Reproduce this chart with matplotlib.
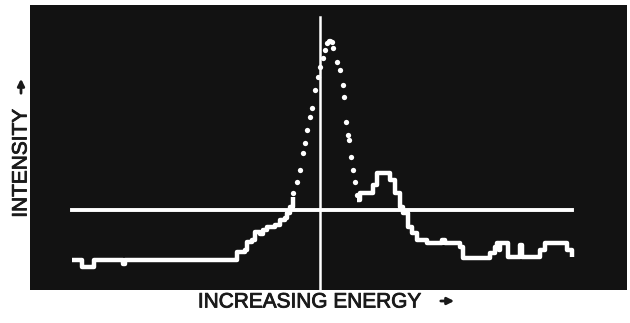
import numpy as np
import matplotlib
matplotlib.use('Agg')
import matplotlib.pyplot as plt
import matplotlib.patheffects as pe

# spectrum: channel number vs intensity (counts)
# rising staircase below the main peak
low_ch = [0, 8, 10, 20, 22, 50, 51, 53, 163, 165, 173, 175, 180, 183, 188, 191,
          195, 203, 208, 213, 215, 218, 221]
low_i = [30, 30, 23, 23, 30, 30, 26, 30, 30, 38, 40, 48, 50, 58, 56, 60,
         63, 65, 70, 72, 77, 83, 93]
# main peak, sparse dots
peak_ch = [221, 225, 228, 231, 233, 235, 238, 240, 243, 246, 248, 251, 253,
           255, 257, 258, 260, 261, 265, 268, 271, 272, 274, 276, 277, 279,
           281, 283, 285]
peak_i = [97, 108, 120, 137, 147, 160, 173, 182, 200, 213, 223, 232, 240,
          247, 249, 249, 248, 242, 228, 220, 205, 193, 168, 155, 150, 133,
          120, 108, 95]
# shoulder peak and tail
high_ch = [285, 288, 298, 301, 305, 315, 318, 323, 328, 331, 336, 340, 345,
           355, 368, 370, 373, 388, 391, 415, 418, 423, 425, 427, 428, 435,
           436, 446, 448, 450, 465, 468, 473, 491, 495, 500]
high_i = [90, 97, 97, 105, 117, 117, 110, 97, 83, 77, 63, 57, 50,
          47, 47, 50, 47, 43, 32, 32, 37, 43, 47, 40, 47, 47,
          33, 33, 45, 33, 33, 40, 47, 47, 40, 33]

marker_level = 80     # horizontal cursor
marker_channel = 248  # vertical cursor

fig = plt.figure(figsize=(6.3, 3.23), dpi=100)
fig.patch.set_facecolor('white')
ax = fig.add_axes([30 / 630, 1 - 290 / 323, 597 / 630, 285 / 323])
ax.set_facecolor('#121212')

ax.plot(low_ch, low_i, color='white', lw=3.2, drawstyle='steps-post',
        solid_capstyle='butt')
ax.plot(high_ch, high_i, color='white', lw=3.2, drawstyle='steps-post',
        solid_capstyle='butt')
ax.plot(peak_ch, peak_i, 'o', color='white', ms=3.8, mec='none')

ax.plot([0, 500], [marker_level, marker_level], color='white', lw=2.8)
ax.plot([marker_channel, marker_channel], [0, 273], color='white', lw=1.8)

ax.set_xlim(-42, 555)
ax.set_ylim(0, 285)
ax.set_xticks([])
ax.set_yticks([])
for s in ax.spines.values():
    s.set_visible(False)

bold = [pe.withStroke(linewidth=0.6, foreground='#1a1a1a')]
fig.text(310 / 630, 1 - 302 / 323, 'INCREASING ENERGY', ha='center', va='center',
         fontsize=15, family='Liberation Sans', color='#1a1a1a', path_effects=bold)
fig.text(21 / 630, 1 - 163 / 323, 'INTENSITY', ha='center', va='center',
         rotation=90, fontsize=15, family='Liberation Sans', color='#1a1a1a',
         path_effects=bold)

# little dart arrows after the labels
fig.patches.append(matplotlib.patches.FancyArrowPatch(
    (438 / 630, 1 - 301 / 323), (457 / 630, 1 - 301 / 323),
    transform=fig.transFigure, arrowstyle='-|>', mutation_scale=10,
    lw=2, color='#1a1a1a'))
fig.patches.append(matplotlib.patches.FancyArrowPatch(
    (21 / 630, 1 - 96 / 323), (21 / 630, 1 - 76 / 323),
    transform=fig.transFigure, arrowstyle='-|>', mutation_scale=10,
    lw=2, color='#1a1a1a'))

fig.savefig('out.png', dpi=100)
